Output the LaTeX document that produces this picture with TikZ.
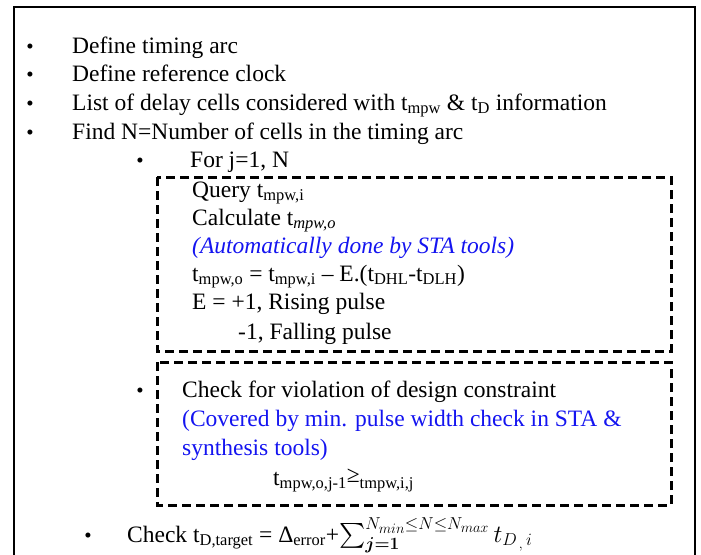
\documentclass[tikz,border=0pt]{standalone}
\usepackage{fontspec}
\setmainfont{Liberation Serif}
\usepackage{amsmath}
\definecolor{noteblue}{RGB}{20,20,240}
\begin{document}
\begin{tikzpicture}[x=1pt,y=-1pt,
  txt/.style={anchor=base west,inner sep=0pt,font=\fontsize{23.5}{27}\selectfont},
  bul/.style={anchor=base,inner sep=0pt,font=\fontsize{21}{24}\selectfont},
  note/.style={txt,text=noteblue},
  dbox/.style={draw=black,line width=3pt,dash pattern=on 9pt off 5pt},
  frame/.style={draw=black,line width=2.2pt}]
\useasboundingbox (0,0) rectangle (701,554);
\draw[frame] (14,580) -- (14,7) -- (695,7) -- (695,580);
% top-level bullets
\node[bul] (b1) at (30,53) {•};
\node[txt] (l1) at (72,53) {Define timing arc};
\node[bul] (b2) at (30,81) {•};
\node[txt] (l2) at (72,81) {Define reference clock};
\node[bul] (b3) at (30,110) {•};
\node[txt] (l3) at (72,110) {List of delay cells considered with t\textsubscript{mpw} \& t\textsubscript{D} information};
\node[bul] (b4) at (30,139) {•};
\node[txt] (l4) at (72,139) {Find N=Number of cells in the timing arc};
\node[bul] (b5) at (140,167) {•};
\node[txt] (l5) at (190,167) {For j=1, N};
% box 1
\draw[dbox] (157,177) rectangle (671,351);
\node[txt] (q1) at (192,197) {Query t\textsubscript{mpw,i}};
\node[txt] (q2) at (192,225) {Calculate t\textsubscript{\itshape mpw,o}};
\node[note,font=\fontsize{23.5}{27}\selectfont\itshape] (q3) at (192,253) {(Automatically done by STA tools)};
\node[txt] (q4) at (192,281) {t\textsubscript{mpw,o} = t\textsubscript{mpw,i} – E.(t\textsubscript{DHL}-t\textsubscript{DLH})};
\node[txt] (q5) at (192,309) {E = +1, Rising pulse};
\node[txt] (q6) at (238,339) {-1, Falling pulse};
% box 2
\draw[dbox] (157,362) rectangle (671,505);
\node[bul] (b6) at (140,397) {•};
\node[txt] (c1) at (182,397) {Check for violation of design constraint};
\node[note] (c2) at (182,426) {(Covered by min. pulse width check in STA \&};
\node[note] (c3) at (182,455) {synthesis tools)};
\node[txt] (c4) at (273,485) {t\textsubscript{mpw,o,j-1}\raisebox{3pt}{≥}\textsubscript{tmpw,i,j}};
% last line
\node[bul] (b7) at (88,542) {•};
\node[txt] (d1) at (127,542) {Check t\textsubscript{D,target} = Δ\textsubscript{error}+{\fontsize{27}{30}\selectfont$\sum_{\boldsymbol{j=1}}^{N_{min}\le N\le N_{max}} t_{D_{\,,}\,i}$}};
\end{tikzpicture}
\end{document}
